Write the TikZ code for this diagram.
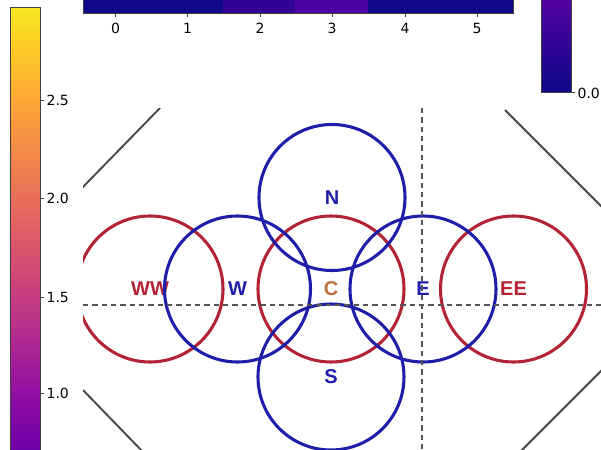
\documentclass[tikz,border=0pt]{standalone}
\usepackage{fontspec}
\setmainfont{DejaVu Sans}
\newfontfamily\lblfont{Liberation Sans}
\usetikzlibrary{positioning}
\definecolor{pl00}{RGB}{13,8,135}
\definecolor{pl15}{RGB}{85,2,162}
\definecolor{pl20}{RGB}{106,0,168}
\definecolor{pl30}{RGB}{143,13,164}
\definecolor{pl40}{RGB}{177,42,144}
\definecolor{pl50}{RGB}{204,71,120}
\definecolor{pl60}{RGB}{225,100,98}
\definecolor{pl70}{RGB}{242,132,75}
\definecolor{pl80}{RGB}{252,166,54}
\definecolor{pl90}{RGB}{252,206,37}
\definecolor{pl96}{RGB}{245,232,35}
\definecolor{hmlow}{RGB}{13,9,136}
\definecolor{hmmid}{RGB}{48,5,150}
\definecolor{hmhigh}{RGB}{75,3,161}
\definecolor{ringred}{RGB}{178,36,52}
\definecolor{ringblue}{RGB}{30,30,170}
\definecolor{lblbrown}{RGB}{185,112,62}
\definecolor{guidegray}{RGB}{85,85,85}
\definecolor{wallgray}{RGB}{70,70,70}

\begin{document}
\begin{tikzpicture}[x=0.75pt,y=-0.75pt,
 ring/.style={circle,draw,line width=2.3pt,minimum size=109.5pt,inner sep=0pt,
   font=\lblfont\bfseries\fontsize{15}{16}\selectfont},
 redring/.style={ring,draw=ringred,text=ringred},
 bluering/.style={ring,draw=ringblue,text=ringblue},
 guide/.style={dash pattern=on 4pt off 3pt,line width=1.6pt,draw=guidegray},
 wall/.style={line width=1.4pt,draw=wallgray},
 ticklbl/.style={font=\fontsize{10.5}{12}\selectfont,inner sep=1pt},
 barframe/.style={line width=0.6pt,draw=black!75}]
\useasboundingbox (0,0) rectangle (601,450);
\clip (0,0) rectangle (601,450);

\foreach \xa/\xb/\c in {83/151.5/hmlow,151.5/223/hmlow,223/295/hmmid,295/368/hmhigh,368/441/hmlow,441/513/hmlow}
  \fill[\c] (\xa,-2) rectangle (\xb,13);
\draw[barframe] (83,-2) rectangle (513,13);
\foreach \i/\x in {0/115.5,1/187.5,2/260,3/332,4/405,5/477} {
  \draw[barframe] (\x,13) -- (\x,17);
  \node[ticklbl] (hx\i) at (\x,28) {\i};
}

\foreach \ya/\yb/\ca/\cb in {7/42.4/pl96/pl90,42.4/101.5/pl90/pl80,101.5/160.6/pl80/pl70,160.6/219.6/pl70/pl60,219.6/278.7/pl60/pl50,278.7/337.8/pl50/pl40,337.8/396.8/pl40/pl30,396.8/456/pl30/pl20}
  \shade[top color=\ca,bottom color=\cb] (10,\ya) rectangle (40,\yb+0.6);
\draw[barframe] (10,7) rectangle (40,460);
\foreach \v/\t/\y in {25/2.5/100.7,20/2.0/198,15/1.5/297,10/1.0/393} {
  \draw[barframe] (40,\y) -- (44,\y);
  \node[ticklbl,anchor=west] (cb\v) at (45,\y) {\t};
}

\shade[top color=pl15,bottom color=pl00] (541,-2) rectangle (571,92);
\draw[barframe] (541,-2) rectangle (571,92);
\draw[barframe] (571,92) -- (575,92);
\node[ticklbl,anchor=west] (cbr0) at (576,93) {0.0};

\begin{scope}
\clip (83,108) rectangle (601,450);
\draw[wall] (81,189) -- (160,108);
\draw[wall] (505,110) -- (603,208);
\draw[wall] (83,390) -- (144,453);
\draw[wall] (521,451) -- (603,369);
\node[redring] (WW) at (150,289) {WW};
\node[redring,text=lblbrown] (C) at (331,289) {C};
\node[redring] (EE) at (513.5,289) {EE};
\node[bluering] (W) at (237.5,289) {W};
\node[bluering] (N) at (332,197.5) {N};
\node[bluering] (S) at (331,377) {S};
\node[bluering] (E) at (423,289) {E};
\draw[guide] (83,305) -- (601,305);
\draw[guide] (422,108) -- (422,450);
\end{scope}
\end{tikzpicture}
\end{document}
